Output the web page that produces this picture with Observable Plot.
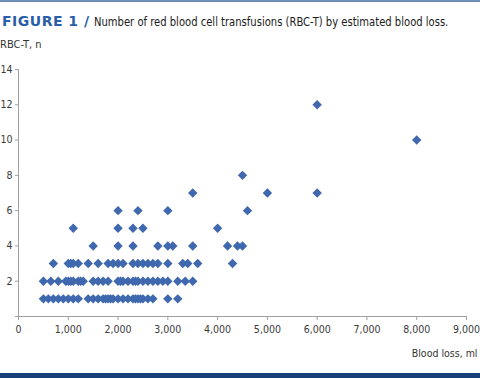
<!DOCTYPE html>
<html>
<head>
<meta charset="utf-8">
<script src="https://cdn.jsdelivr.net/npm/d3@7"></script>
<script src="https://cdn.jsdelivr.net/npm/@observablehq/plot@0.6"></script>
<style>
  html, body { margin: 0; padding: 0; background: #fff; }
  #wrap { position: relative; width: 480px; height: 378px; overflow: hidden; }
  #topline { position: absolute; left: 0; top: 0; width: 480px; height: 2px; background: #6f8fb5; }
  #title { position: absolute; left: 2px; top: 12px; white-space: nowrap; }
  #fig { font-family: "DejaVu Sans", sans-serif; font-weight: bold; font-size: 14px; color: #2a5ea8; letter-spacing: 0.5px; }
  #sub { display: inline-block; transform: scaleX(0.89); transform-origin: left center; font-family: "DejaVu Sans Condensed", "DejaVu Sans", sans-serif; font-stretch: condensed; font-size: 12.5px; color: #1a1a1a; }
  #ylab { position: absolute; left: 0; top: 38px; font-family: "DejaVu Sans Condensed", sans-serif; font-stretch: condensed; font-size: 11px; color: #333; }
  #chart { position: absolute; left: 0; top: 60px; }
  #bottombar { position: absolute; left: 0; top: 373px; width: 480px; height: 5px; background: #173f78; }
</style>
</head>
<body>
<div id="wrap">
  <div id="topline"></div>
  <div id="title"><span id="fig">FIGURE 1 /</span> <span id="sub">Number of red blood cell transfusions (RBC-T) by estimated blood loss.</span></div>
  <div id="ylab">RBC-T, n</div>
  <div id="chart"></div>
  <div id="bottombar"></div>
</div>
<script>
// Estimated blood loss (ml) per transfusion count
const loss1 = [500, 600, 700, 800, 900, 1000, 1100, 1200, 1400, 1500, 1600, 1700, 1750, 1800, 1850, 1900, 2000, 2100, 2200, 2300, 2350, 2400, 2450, 2500, 2600, 2700, 3000, 3200];
const loss2 = [500, 650, 800, 950, 1000, 1050, 1100, 1200, 1250, 1300, 1500, 1600, 1700, 1800, 2000, 2050, 2100, 2200, 2300, 2350, 2400, 2500, 2600, 2700, 2800, 2900, 3000, 3200, 3350, 3500];
const loss3 = [700, 1000, 1050, 1100, 1200, 1400, 1600, 1800, 1900, 2000, 2100, 2300, 2400, 2500, 2600, 2700, 2800, 3000, 3300, 3400, 3600, 4300];
const loss4 = [1500, 2000, 2300, 2800, 3000, 3100, 3500, 4200, 4400, 4500];
const loss5 = [1100, 2000, 2300, 2500, 4000];
const loss6 = [2000, 2400, 3000, 4600];
const loss7 = [3500, 5000, 6000];
const loss8 = [4500];
const loss10 = [8000];
const loss12 = [6000];

const xTicks = [0, 1000, 2000, 3000, 4000, 5000, 6000, 7000, 8000, 9000];
const yTicks = [0, 2, 4, 6, 8, 10, 12, 14];
const xAxisLabel = "Blood loss, ml";

const groups = [[1, loss1], [2, loss2], [3, loss3], [4, loss4], [5, loss5], [6, loss6], [7, loss7], [8, loss8], [10, loss10], [12, loss12]];
const data = groups.flatMap(([n, arr]) => arr.map(x => ({x, n})));

const diamond = {
  draw(ctx, size) {
    const s = Math.sqrt(size / Math.PI);
    ctx.moveTo(0, -s);
    ctx.lineTo(s, 0);
    ctx.lineTo(0, s);
    ctx.lineTo(-s, 0);
    ctx.closePath();
  }
};

const font = '"DejaVu Sans Condensed", sans-serif';

const chart = Plot.plot({
  width: 480,
  height: 306,
  marginTop: 9,
  marginBottom: 50,
  marginLeft: 18,
  marginRight: 14,
  style: { fontFamily: font, fontSize: "10.5px", color: "#3a3a3a", background: "transparent", fontStretch: "condensed" },
  x: { domain: [0, 9000] },
  y: { domain: [0, 14] },
  marks: [
    Plot.ruleY([0], { stroke: "#a0a0a0" }),
    Plot.ruleX([0], { stroke: "#a0a0a0" }),
    Plot.axisX({ ticks: xTicks, tickSize: 4, tickPadding: 5, tickFormat: d3.format(","), stroke: "#a0a0a0", label: null }),
    Plot.axisY({ ticks: yTicks, tickSize: 3, tickPadding: 3, tickFormat: d => d === 0 ? "" : d, stroke: "#a0a0a0", label: null }),
    Plot.dot(data, { x: "x", y: "n", symbol: diamond, r: 4.7, fill: "#3f68ae", stroke: "none" }),
    Plot.text([xAxisLabel], { frameAnchor: "bottom-right", dx: 11, dy: 40, textAnchor: "end", fill: "#333", fontSize: 10.5 })
  ]
});
document.getElementById("chart").appendChild(chart);
</script>
</body>
</html>
